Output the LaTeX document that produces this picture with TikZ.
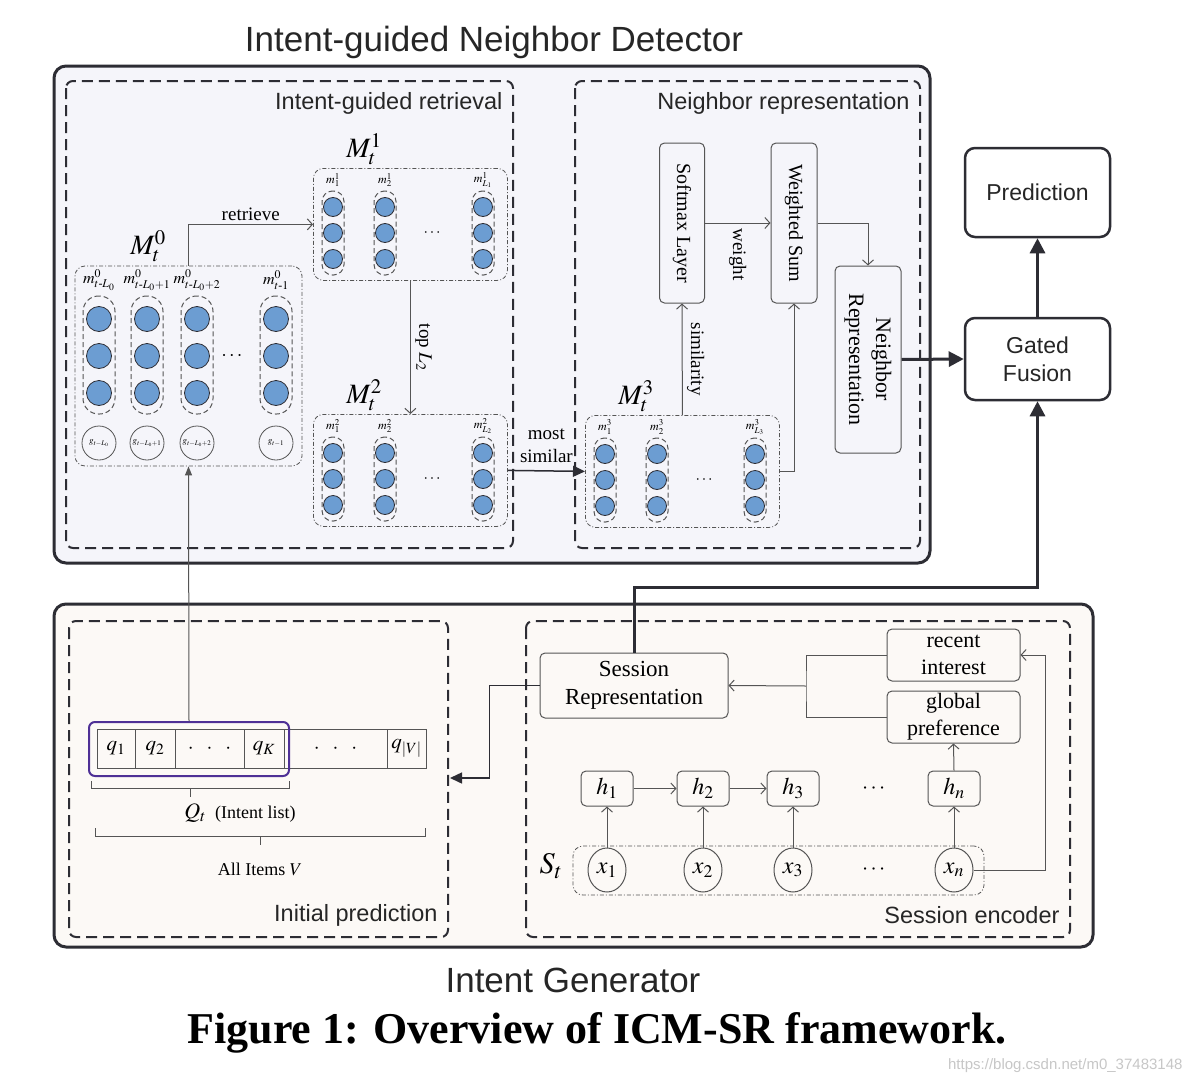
\documentclass[tikz,border=0pt]{standalone}
\usepackage{amsmath}
\usepackage{mathptmx}
\usepackage{fontspec}
\setmainfont{Liberation Serif}
\setsansfont{Liberation Sans}
\usetikzlibrary{arrows.meta, positioning, shapes.geometric}

\definecolor{detbg}{RGB}{245,245,250}
\definecolor{genbg}{RGB}{252,249,246}
\definecolor{unitblue}{RGB}{108,157,210}
\definecolor{framecol}{RGB}{45,45,52}
\definecolor{wirecol}{RGB}{85,85,85}
\definecolor{intentcol}{RGB}{78,48,150}
\newcommand{\fsz}[2]{\fontsize{#1}{#2}\selectfont}

\tikzset{
  panel/.style={draw=framecol, line width=3pt, rounded corners=12pt},
  part/.style={draw=framecol, line width=2pt, dash pattern=on 11pt off 6pt, rounded corners=7pt},
  parttitle/.style={anchor=east, font=\sffamily\fsz{23.5}{27}, text=black!85},
  bigtitle/.style={font=\sffamily\fsz{35}{40}, text=black!85},
  memory/.style={draw=wirecol, line width=0.8pt, dash pattern=on 4pt off 2pt on 1pt off 2pt, rounded corners=10pt, inner sep=0pt},
  capsule/.style={draw=wirecol, line width=1pt, dash pattern=on 5pt off 3pt, inner sep=0pt},
  unit/.style={circle, draw=framecol, fill=unitblue, line width=0.8pt, inner sep=0pt},
  slot/.style={inner sep=0pt},
  gatecirc/.style={circle, draw=wirecol, line width=0.8pt, inner sep=0pt, minimum size=34pt, font=\fsz{9}{10}},
  rbox/.style={draw=wirecol, line width=1pt, rounded corners=5pt, align=center, inner sep=0pt},
  bigbox/.style={draw=framecol, line width=2.5pt, rounded corners=10pt, align=center, font=\sffamily\fsz{23}{28}, text=black!85, minimum width=145pt},
  cell/.style={draw=wirecol, line width=1pt, minimum height=39pt, inner sep=0pt, outer sep=0pt, font=\fsz{21}{24}},
  token/.style={ellipse, draw=wirecol, line width=1pt, minimum width=38pt, minimum height=44pt, inner sep=0pt, font=\fsz{24}{26}},
  hidden/.style={rbox, minimum width=52pt, minimum height=35pt, font=\fsz{24}{26}},
  flow/.style={draw=wirecol, line width=1pt, -{Straight Barb[length=5pt,width=11pt]}},
  mainflow/.style={draw=framecol, line width=3pt, -{Triangle[length=15pt,width=15pt]}},
  sideflow/.style={draw=framecol, line width=1.5pt, -{Triangle[length=12pt,width=11pt]}},
  upflow/.style={draw=wirecol, line width=1pt, -{Triangle[length=9pt,width=7pt]}},
  wire/.style={draw=wirecol, line width=1pt},
  lbl/.style={font=\fsz{19}{23}, align=center},
}

\begin{document}
\begin{tikzpicture}[x=1pt, y=-1pt]
\useasboundingbox (0,0) rectangle (1194,1084);
\fill[white] (0,0) rectangle (1194,1084);

% Intent-guided Neighbor Detector
\node[bigtitle] (dettitle) at (494,42) {Intent-guided Neighbor Detector};
\draw[panel, fill=detbg] (54,66) rectangle (930,563);
\draw[part] (66,81) rectangle (513,548);
\draw[part] (575,81) rectangle (920,548);
\node[parttitle] (rettitle) at (506,103) {Intent-guided retrieval};
\node[parttitle] (reptitle) at (913,103) {Neighbor representation};

% M^0 with the intents
\node[memory, minimum width=227pt, minimum height=200pt] (mem0) at (188.5,366) {};
\node[font=\fsz{28}{30}] (mem0lbl) at (148,246) {$M_t^0$};
\foreach \x/\sub/\gsub [count=\i] in {99/{t\text{-}L_0}/{t-L_0}, 147/{t\text{-}L_0{+}1}/{t-L_0+1}, 197/{t\text{-}L_0{+}2}/{t-L_0+2}, 276/{t\text{-}1}/{t-1}} {
  \node[capsule, rounded corners=15.5pt, minimum width=32pt, minimum height=118pt] (col0\i) at (\x,355) {};
  \foreach \y [count=\j] in {319,356,393}
    \node[unit, minimum size=25pt] (u0\i\j) at (\x,\y) {};
  \node[slot, font=\fsz{16}{18}] (m0\i) at (\x,280) {$m^{0}_{\sub}$};
  \node[gatecirc] (g\i) at (\x,443) {$g_{\gsub}$};
}
\node[font=\fsz{20}{22}] (dots0) at (233,356) {$\cdots$};

% M^1, M^2, M^3
\foreach \k/\xl/\yt in {1/313/168, 2/313/414, 3/585/415} {
  \node[memory, anchor=north west, minimum width=194pt, minimum height=112pt] (mem\k) at (\xl,\yt) {};
  \node[font=\fsz{28}{30}] (mem\k lbl) at (\xl+51,\yt-19) {$M_t^{\k}$};
  \foreach \dx/\sub [count=\i] in {20/1, 72/2, 170/{L_\k}} {
    \node[capsule, rounded corners=10.5pt, minimum width=22pt, minimum height=84pt] (col\k\i) at (\xl+\dx,\yt+65) {};
    \foreach \dy [count=\j] in {-26,0,26}
      \node[unit, minimum size=19pt] (u\k\i\j) at (\xl+\dx,\yt+65+\dy) {};
    \node[slot, font=\fsz{12}{13}] (m\k\i) at (\xl+\dx,\yt+12) {$m^{\k}_{\sub}$};
  }
  \node[font=\fsz{16}{18}] (dots\k) at (\xl+120,\yt+65) {$\cdots$};
}

\draw[flow] (mem0.north) |- node[lbl, above, pos=0.75] (retlbl) {retrieve} (mem1.west);
\draw[flow] (mem1.south) -- node[lbl, right=1pt] (toplbl) {\rotatebox{-90}{top $L_2$}} (mem2.north);
\draw[sideflow] (mem2.east) -- node[lbl, above=4pt] (simlbl) {most\\similar} (mem3.west);

% neighbor representation
\node[rbox, minimum width=45pt, minimum height=160pt, font=\fsz{20}{24}] (soft) at (682,223) {\rotatebox{-90}{Softmax Layer}};
\node[rbox, minimum width=46pt, minimum height=160pt, font=\fsz{20}{24}] (wsum) at (794,223) {\rotatebox{-90}{Weighted Sum}};
\node[rbox, minimum width=66pt, minimum height=187pt, font=\fsz{22}{27}] (nrep) at (868,359.5) {\rotatebox{-90}{\begin{tabular}{@{}c@{}}Neighbor\\Representation\end{tabular}}};
\draw[flow] (soft.east) -- node[lbl, below=2pt] (wlbl) {\rotatebox{-90}{weight}} (wsum.west);
\draw[flow] (wsum.east) -| (nrep.north);
\draw[flow] (mem3.north) -- node[lbl, right=1pt] (silbl) {\rotatebox{-90}{similarity}} (soft.south);
\draw[flow] (mem3.east) -| (wsum.south);

% fusion and prediction
\node[bigbox, minimum height=89pt] (pred) at (1037.5,192.5) {Prediction};
\node[bigbox, minimum height=82pt] (fuse) at (1037.5,359) {Gated\\Fusion};
\draw[mainflow] (nrep.east) -- (fuse.west);
\draw[mainflow] (fuse.north) -- (pred.south);

% Intent Generator
\node[bigtitle] (gentitle) at (573,980) {Intent Generator};
\draw[panel, fill=genbg] (54,604) rectangle (1093,947);
\draw[part] (69,621) rectangle (448,937);
\draw[part] (526,621) rectangle (1070,937);
\node[parttitle] (iptitle) at (441,915) {Initial prediction};
\node[parttitle] (setitle) at (1063,915) {Session encoder};

% initial prediction
\node[cell, minimum width=38pt, anchor=west] (q1) at (97,748.5) {$q_1$};
\node[cell, minimum width=40pt, right=0pt of q1] (q2) {$q_2$};
\node[cell, minimum width=69pt, right=0pt of q2] (qd1) {${\cdot}\hspace{13pt}{\cdot}\hspace{13pt}{\cdot}$};
\node[cell, minimum width=40pt, right=0pt of qd1] (qK) {$q_K$};
\node[cell, minimum width=103pt, right=0pt of qK] (qd2) {${\cdot}\hspace{13pt}{\cdot}\hspace{13pt}{\cdot}$};
\node[cell, minimum width=39pt, right=0pt of qd2] (qV) {$q_{|V|}$};
\node[draw=intentcol, line width=2pt, rounded corners=6pt, minimum width=200pt, minimum height=54pt] (intent) at (189,749) {};
\draw[wire] (91,781) -- (91,788) -- (289,788) -- (289,781) (190,788) -- (190,797);
\node[lbl, font=\fsz{18}{20}] (qlbl) at (240,813) {{\fsz{22}{24}$Q_t$}\ \ (Intent list)};
\draw[wire] (95,828) -- (95,836) -- (425,836) -- (425,828) (260,836) -- (260,845);
\node[lbl, font=\fsz{18}{20}] (vlbl) at (260,869) {All Items $V$};
\draw[upflow] (intent.north) -- (mem0.south);

% session encoder
\node[rbox, minimum width=188pt, minimum height=65pt, font=\fsz{23}{28}] (sesrep) at (634,685.5) {Session\\Representation};
\node[rbox, minimum width=133pt, minimum height=52pt, font=\fsz{22}{27}] (recent) at (953.5,655) {recent\\interest};
\node[rbox, minimum width=133pt, minimum height=52pt, font=\fsz{22}{27}] (global) at (953.5,717) {global\\preference};
\node[memory, minimum width=411pt, minimum height=49pt] (seq) at (778.5,870.5) {};
\node[font=\fsz{30}{32}] (seqlbl) at (551,866) {$S_t$};
\foreach \x/\n in {607/1, 703/2, 793/3, 954/n} {
  \node[hidden] (h\n) at (\x,788.5) {$h_{\n}$};
  \node[token] (x\n) at (\x,870) {$x_{\n}$};
  \draw[flow] (x\n.north) -- (h\n.south);
}
\node[font=\fsz{22}{24}] (hdots) at (875,789) {$\cdots$};
\node[font=\fsz{22}{24}] (xdots) at (875,870) {$\cdots$};
\draw[flow] (h1) -- (h2);
\draw[flow] (h2) -- (h3);
\draw[flow] (hn.north) -- (global.south);

\coordinate (merge) at (806,686);
\draw[wire] (recent.west) -| (merge) |- (global.west);
\draw[flow] (merge) -- (sesrep.east);
\draw[flow] (xn.east) -- ++(72,0) |- (recent.east);
\coordinate (predin) at (450,778);
\draw[sideflow] (sesrep.west) -- ++(-50,0) |- (predin);
\coordinate (fusebend) at (1037.5,587);
\draw[mainflow] (sesrep.north) |- (fusebend) -- (fuse.south);

\node[font=\bfseries\fsz{44}{48}] (caption) at (597,1033) {Figure 1: Overview of ICM-SR framework.};
\node[anchor=east, font=\sffamily\fsz{15}{16}, text=black!22] (mark) at (1186,1066) {https://blog.csdn.net/m0\_37483148};
\end{tikzpicture}
\end{document}
